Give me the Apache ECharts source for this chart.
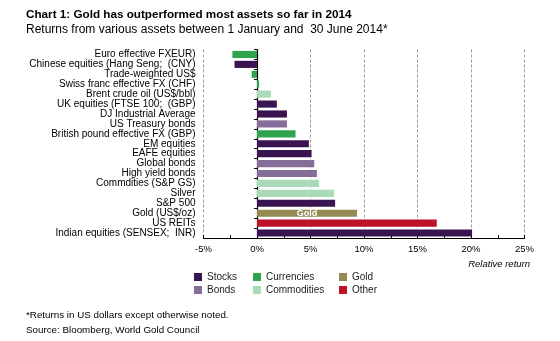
<!DOCTYPE html>
<html><head><meta charset="utf-8">
<script src="https://cdn.jsdelivr.net/npm/echarts@6/dist/echarts.min.js"></script>
<style>html,body{margin:0;padding:0;background:#fff}#c{width:560px;height:341px}</style>
</head><body><div id="c"></div>
<script>
const categories = ["Euro effective FXEUR)","Chinese equities (Hang Seng;  (CNY)","Trade-weighted US$","Swiss franc effective FX (CHF)","Brent crude oil (US$/bbl)","UK equities (FTSE 100;  (GBP)","DJ Industrial Average","US Treasury bonds","British pound effective FX (GBP)","EM equities","EAFE equities","Global bonds","High yield bonds","Commdities (S&P GS)","Silver","S&P 500","Gold (US$/oz)","US REITs","Indian equities (SENSEX;  INR)"];
const returns = [-2.3,-2.1,-0.5,0.2,1.3,1.85,2.8,2.8,3.6,4.85,5.1,5.35,5.6,5.8,7.2,7.3,9.35,16.8,20.1];
const groups = ["Currencies","Stocks","Currencies","Currencies","Commodities","Stocks","Stocks","Bonds","Currencies","Stocks","Stocks","Bonds","Bonds","Commodities","Commodities","Stocks","Gold","Other","Stocks"];
const groupNames = ["Stocks","Bonds","Currencies","Commodities","Gold","Other"];
const groupColors = {"Stocks":"#3a1450","Bonds":"#856f99","Currencies":"#2ea44f","Commodities":"#aadbb8","Gold":"#958a54","Other":"#bd1228"};
const xTicks = [-5,0,5,10,15,20,25];

const font = "Liberation Sans, Arial, sans-serif";
const series = groupNames.map(g => ({
  name: g, type: 'bar', stack: 'all', barCategoryGap: '28%',
  itemStyle: {color: groupColors[g]},
  data: returns.map((v,i) => groups[i] === g ? v : '-'),
  label: g === 'Gold' ? {show: true, position: 'inside', formatter: 'Gold', color: '#fff', fontWeight: 'bold', fontSize: 9, fontFamily: font} : {show: false}
}));

const legendBase = {orient: 'vertical', itemWidth: 8, itemHeight: 8, itemGap: 3, icon: 'rect', padding: 0,
  textStyle: {fontSize: 10, fontFamily: font, color: '#222'}, selectedMode: false};

const chart = echarts.init(document.getElementById('c'), null, {renderer: 'canvas'});
chart.setOption({
  animation: false,
  title: [
    {text: 'Chart 1: Gold has outperformed most assets so far in 2014', left: 26, top: 9, padding: 0,
     textStyle: {fontSize: 11.7, fontWeight: 'bold', fontFamily: font, color: '#000'}},
    {text: 'Returns from various assets between 1 January and  30 June 2014*', left: 26, top: 24, padding: 0,
     textStyle: {fontSize: 12, fontWeight: 'normal', fontFamily: font, color: '#000'}},
    {text: '*Returns in US dollars except otherwise noted.', left: 26, top: 310, padding: 0,
     textStyle: {fontSize: 9.8, fontWeight: 'normal', fontFamily: font, color: '#000'}},
    {text: 'Source: Bloomberg, World Gold Council', left: 26, top: 325, padding: 0,
     textStyle: {fontSize: 9.8, fontWeight: 'normal', fontFamily: font, color: '#000'}},
    {text: 'Relative return', right: 30, top: 259, padding: 0,
     textStyle: {fontSize: 9.5, fontWeight: 'normal', fontStyle: 'italic', fontFamily: font, color: '#000'}}
  ],
  legend: [
    Object.assign({}, legendBase, {left: 194, top: 272, data: ['Stocks','Bonds']}),
    Object.assign({}, legendBase, {left: 253, top: 272, data: ['Currencies','Commodities']}),
    Object.assign({}, legendBase, {left: 339, top: 272, data: ['Gold','Other']})
  ],
  grid: {left: 203.5, right: 35.5, top: 49.5, bottom: 103, containLabel: false},
  xAxis: {
    type: 'value', min: xTicks[0], max: xTicks[xTicks.length-1], interval: 5,
    axisLine: {show: true, onZero: false, lineStyle: {color: '#000', width: 1}},
    axisTick: {show: true, inside: true, length: 3, lineStyle: {color: '#000'}},
    minorTick: {show: true, splitNumber: 2, length: 3, lineStyle: {color: '#000'}},
    axisLabel: {formatter: v => v + '%', fontSize: 9.5, fontFamily: font, color: '#000', margin: 6},
    splitLine: {show: true, lineStyle: {color: '#999', type: [3, 2], width: 1}}
  },
  yAxis: {
    type: 'category', data: categories, inverse: true,
    axisLine: {show: true, onZero: true, lineStyle: {color: '#000', width: 1.2}},
    axisTick: {show: true, length: 3, lineStyle: {color: '#000'}},
    axisLabel: {interval: 0, fontSize: 10, fontFamily: font, color: '#000', margin: 8},
    splitLine: {show: false}
  },
  series: series
});
</script>
</body></html>
